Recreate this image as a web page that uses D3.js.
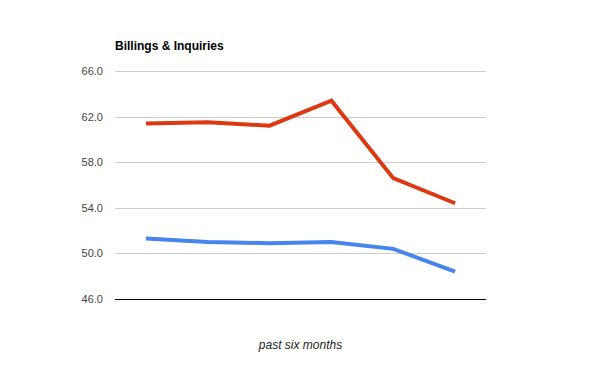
<!DOCTYPE html>
<html>
<head>
<meta charset="utf-8">
<script src="https://cdn.jsdelivr.net/npm/d3@7"></script>
<style>
  body { margin: 0; background: #fff; }
  svg { font-family: Arial, "Liberation Sans", sans-serif; }
  .tick line, .baseline { shape-rendering: crispEdges; }
</style>
</head>
<body>
<svg id="chart" width="600" height="371"></svg>
<script>
const months = ['m1', 'm2', 'm3', 'm4', 'm5', 'm6']
const billings = [61.4, 61.5, 61.2, 63.4, 56.6, 54.4]
const inquiries = [51.3, 51.0, 50.9, 51.0, 50.4, 48.4]
const yTicks = [46, 50, 54, 58, 62, 66]

const plotLeft = 115
const plotRight = 486
const plotTop = 71
const plotBottom = 299

const svg = d3.select('#chart')

const x = d3.scalePoint().domain(months).range([plotLeft, plotRight]).padding(0.5)
const y = d3.scaleLinear().domain([46, 66]).range([plotBottom, plotTop])

// gridlines + labels
const yAxis = d3.axisLeft(y)
  .tickValues(yTicks)
  .tickSize(-(plotRight - plotLeft))
  .tickPadding(12)
  .tickFormat(d3.format('.1f'))

svg.append('g')
  .attr('transform', 'translate(' + plotLeft + ',0)')
  .call(yAxis)
  .call(g => g.select('.domain').remove())
  .call(g => g.selectAll('.tick line').attr('stroke', '#ccc'))
  .call(g => g.selectAll('.tick text').attr('fill', '#444').attr('font-size', 11))

// baseline
svg.append('line')
  .attr('class', 'baseline')
  .attr('x1', plotLeft).attr('x2', plotRight)
  .attr('y1', y(46) + 0.5).attr('y2', y(46) + 0.5)
  .attr('stroke', '#000')

const line = d3.line()
  .x((d, i) => x(months[i]))
  .y(d => y(d))

svg.append('path')
  .datum(inquiries)
  .attr('fill', 'none')
  .attr('stroke', '#4684ee')
  .attr('stroke-width', 4)
  .attr('d', line)

svg.append('path')
  .datum(billings)
  .attr('fill', 'none')
  .attr('stroke', '#dc3912')
  .attr('stroke-width', 4)
  .attr('d', line)

svg.append('text')
  .attr('x', plotLeft)
  .attr('y', 50)
  .attr('font-size', 12)
  .attr('font-weight', 'bold')
  .attr('fill', '#000')
  .text('Billings & Inquiries')

svg.append('text')
  .attr('x', (plotLeft + plotRight) / 2)
  .attr('y', 349)
  .attr('text-anchor', 'middle')
  .attr('font-size', 12)
  .attr('font-style', 'italic')
  .attr('fill', '#222')
  .text('past six months')
</script>
</body>
</html>
